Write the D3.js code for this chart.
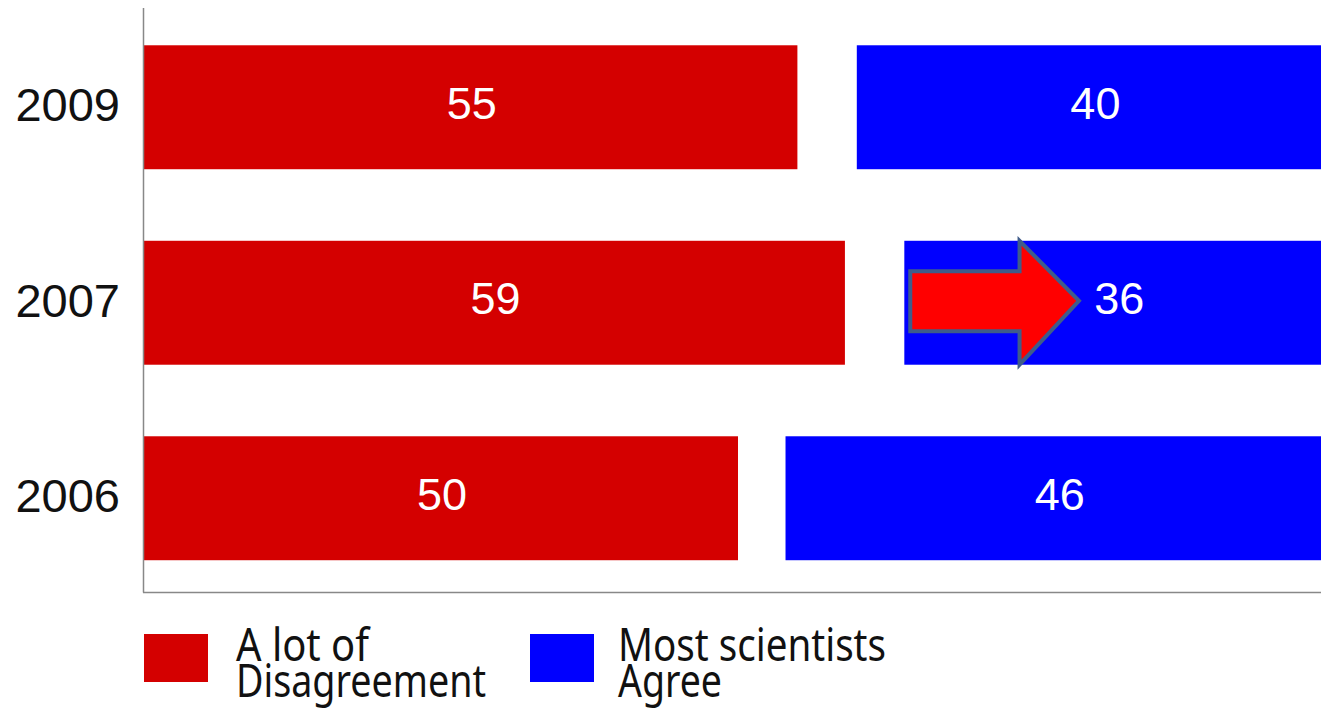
<!DOCTYPE html>
<html><head><meta charset="utf-8">
<script src="https://cdn.jsdelivr.net/npm/d3@7"></script>
<style>html,body{margin:0;padding:0;background:#fff;overflow:hidden}</style>
</head><body>
<svg id="c" width="1321" height="708"></svg>
<script>
const years = ["2009", "2007", "2006"];
const disagree = [55, 59, 50];
const other = [5, 5, 4];
const agree = [40, 36, 46];
const seriesNames = ["A lot of Disagreement", "Other", "Most scientists Agree"];
const legendLines = [["A lot of", "Disagreement"], ["Most scientists", "Agree"]];
// arrow annotation in data units (on 2007 row)
const arrowYear = "2007";
const arrowX = [64.5, 73.7, 78.7];

const svg = d3.select("#c");
const x = d3.scaleLinear().domain([0, 100]).range([144, 1332]);
const y = d3.scaleBand().domain(years).range([9.5, 596]).paddingInner(0.366).paddingOuter(0.183);

const rows = years.map((yr, i) => ({year: yr, d: disagree[i], o: other[i], a: agree[i]}));
const stack = d3.stack().keys(["d", "o", "a"])(rows);
const colors = {d: "#D40000", o: "none", a: "#0000FF"};

// bars
stack.forEach(layer => {
  if (layer.key === "o") return;
  svg.append("g").selectAll("rect").data(layer).join("rect")
    .attr("x", s => x(s[0]))
    .attr("y", s => y(s.data.year))
    .attr("width", s => x(s[1]) - x(s[0]))
    .attr("height", y.bandwidth())
    .attr("fill", colors[layer.key]);
  svg.append("g").selectAll("text").data(layer).join("text")
    .attr("x", s => (x(s[0]) + x(s[1])) / 2 + 1)
    .attr("y", s => y(s.data.year) + y.bandwidth() / 2)
    .attr("dy", "0.26em")
    .attr("text-anchor", "middle")
    .attr("fill", "#fff")
    .attr("font-family", "Liberation Sans, Arial, sans-serif")
    .attr("font-size", 45)
    .text(s => s[1] - s[0]);
});

// axes lines
svg.append("line").attr("x1", 143.5).attr("x2", 143.5).attr("y1", 8).attr("y2", 592.5)
  .attr("stroke", "#888").attr("stroke-width", 1.5);
svg.append("line").attr("x1", 143).attr("x2", 1321).attr("y1", 592.5).attr("y2", 592.5)
  .attr("stroke", "#888").attr("stroke-width", 1.5);

// y labels
const yAxis = d3.axisLeft(y).tickSize(0).tickPadding(0);
const ya = svg.append("g").attr("transform", "translate(120,0)").call(yAxis);
ya.select(".domain").remove();
ya.selectAll("text").attr("font-family", "Liberation Sans, Arial, sans-serif")
  .attr("font-size", 47).attr("fill", "#111").attr("dy", "0.3em");

// arrow
const ay = y(arrowYear), bh = y.bandwidth();
const sTop = ay + bh * 0.245, sBot = ay + bh * 0.73, mid = ay + bh * 0.485;
const pts = [
  [x(arrowX[0]), sTop], [x(arrowX[1]), sTop], [x(arrowX[1]), ay], [x(arrowX[2]), mid],
  [x(arrowX[1]), ay + bh], [x(arrowX[1]), sBot], [x(arrowX[0]), sBot]
];
svg.append("polygon").attr("points", pts.map(p => p.join(",")).join(" "))
  .attr("fill", "#FF0000").attr("stroke", "#3F5C8A").attr("stroke-width", 4);

// legend
const legendColors = ["#D40000", "#0000FF"];
const legendX = [144, 530];
const textX = [236, 618];
const lineWidths = [[133, 250], [268, 104]];
legendLines.forEach((lines, i) => {
  svg.append("rect").attr("x", legendX[i]).attr("y", 634).attr("width", 64).attr("height", 48)
    .attr("fill", legendColors[i]);
  lines.forEach((t, j) => {
    svg.append("text").attr("x", textX[i]).attr("y", 661 + j * 36)
      .attr("font-family", "Noto Sans, DejaVu Sans, sans-serif").attr("font-size", 46)
      .attr("fill", "#111")
      .attr("textLength", lineWidths[i][j]).attr("lengthAdjust", "spacingAndGlyphs")
      .text(t);
  });
});
</script>
</body></html>
